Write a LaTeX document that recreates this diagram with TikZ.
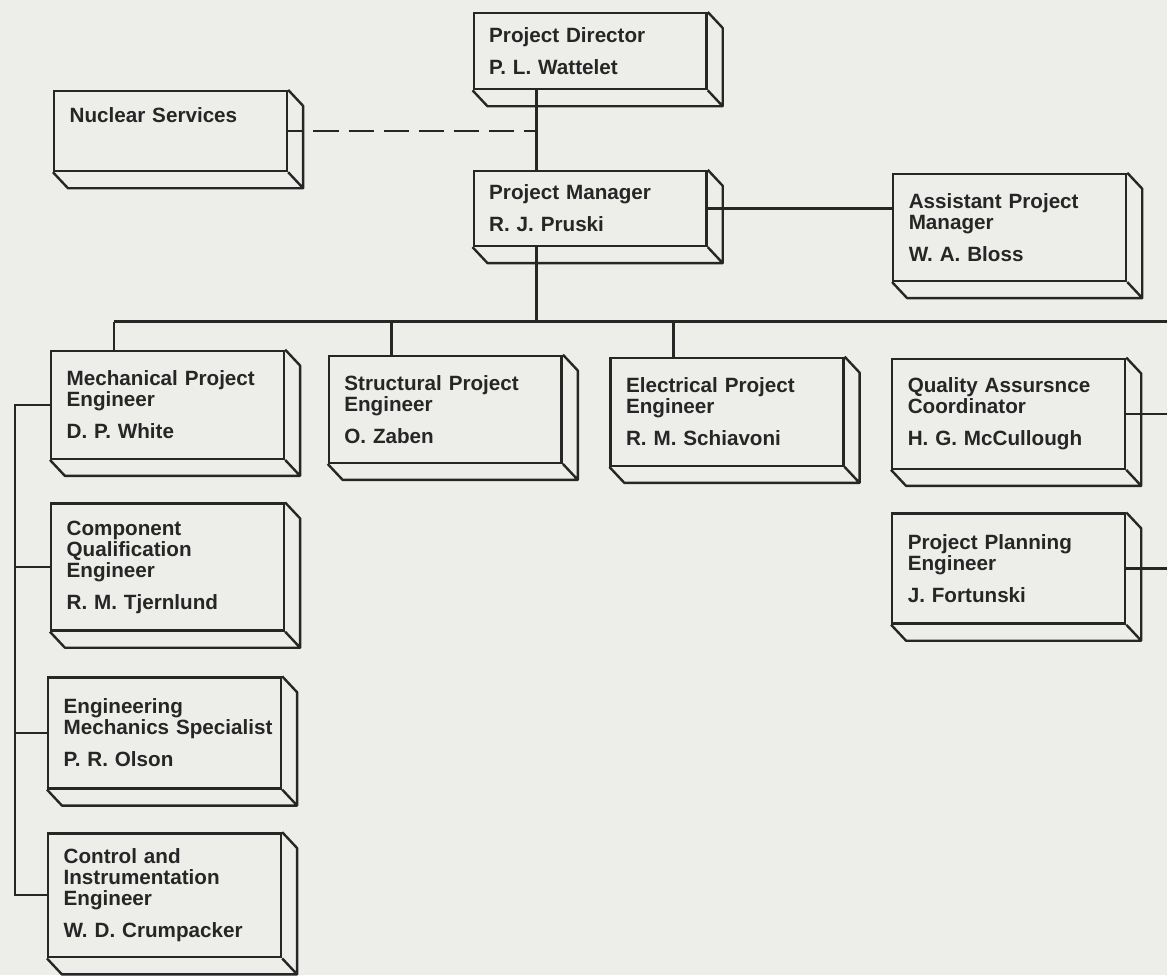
\documentclass[tikz,border=0pt]{standalone}
\usepackage{fontspec}
\setmainfont{Liberation Sans}
\usetikzlibrary{positioning,calc}
\definecolor{ink}{HTML}{262626}
\definecolor{paper}{HTML}{EDEDEA}
\tikzset{
  link/.style={line width=1.7pt, draw=ink},
  slab/.style={draw=ink, line width=1.7pt, anchor=north west, minimum width=5.825cm,
    minimum height=#1*0.025cm, text width=5.05cm, inner xsep=0.3875cm, inner ysep=2pt,
    align=left, text=ink, font=\fontsize{14.7}{15}\selectfont\bfseries},
  rim/.style={line width=1.7pt, draw=ink, line join=round},
}
\begin{document}
\begin{tikzpicture}[x=0.025cm,y=-0.025cm]
  \fill[paper] (0,0) rectangle (1168,976);
  \node[slab=76]  (dir)   at (473,12)  {Project Director\\[7.7pt]P. L. Wattelet};
  \node[slab=80]  (nuc)   at (53,90)   {Nuclear Services\\[7.7pt]\mbox{}};
  \node[slab=75]  (mgr)   at (473,170) {Project Manager\\[7.7pt]R. J. Pruski};
  \node[slab=107] (asst)  at (893,173) {Assistant Project\\Manager\\[7.7pt]W. A. Bloss};
  \node[slab=108] (mech)  at (50,350)  {Mechanical Project\\Engineer\\[7.7pt]D. P. White};
  \node[slab=107] (struc) at (328,355) {Structural Project\\Engineer\\[7.7pt]O. Zaben};
  \node[slab=108] (elec)  at (610,357) {Electrical Project\\Engineer\\[7.7pt]R. M. Schiavoni};
  \node[slab=110] (qa)    at (892,358) {Quality Assursnce\\Coordinator\\[7.7pt]H. G. McCullough};
  \node[slab=127] (comp)  at (50,503)  {Component\\Qualification\\Engineer\\[7.7pt]R. M. Tjernlund};
  \node[slab=110] (plan)  at (892,513) {Project Planning\\Engineer\\[7.7pt]J. Fortunski};
  \node[slab=111] (engm)  at (47,677)  {Engineering\\\mbox{Mechanics Specialist}\\[7.7pt]P. R. Olson};
  \node[slab=124] (ctrl)  at (47,833)  {Control and\\Instrumentation\\Engineer\\[7.7pt]W. D. Crumpacker};

  \foreach \b in {dir,nuc,mgr,asst,mech,struc,elec,qa,comp,plan,engm,ctrl}
    \draw[rim] (\b.north east) -- ++(15,16) |- ([shift={(15,16)}]\b.south west) -- (\b.south west)
      (\b.south east) -- ++(15,16);

  \coordinate (bus) at (0,322);
  \coordinate (lspine) at (15,0);
  \coordinate (rspine) at (1168,0);
  \foreach \b in {mgr,mech,struc,elec}
    \coordinate (\b-tap) at ([xshift=1.6cm]\b.north west);

  \draw[link] (dir.south -| mgr-tap) -- (mgr-tap);
  \draw[link] (mgr.south -| mgr-tap) -- (bus -| mgr-tap);
  \draw[link] (mech-tap |- bus) -- (rspine |- bus);
  \foreach \b in {mech,struc,elec}
    \draw[link] (\b-tap |- bus) -- (\b-tap);
  \draw[link] (mgr.east) -- (asst.west |- mgr.east);
  \draw[link, dash pattern=on 18pt off 7pt, dash phase=7pt] (nuc.east) -- (nuc.east -| mgr-tap);
  \draw[link] (mech.west) -- (lspine |- mech.west) -- (lspine |- ctrl.west) -- (ctrl.west);
  \foreach \b in {comp,engm}
    \draw[link] (\b.west) -- (lspine |- \b.west);
  \foreach \b in {qa,plan}
    \draw[link] (\b.east) -- (rspine |- \b.east);
\end{tikzpicture}
\end{document}
